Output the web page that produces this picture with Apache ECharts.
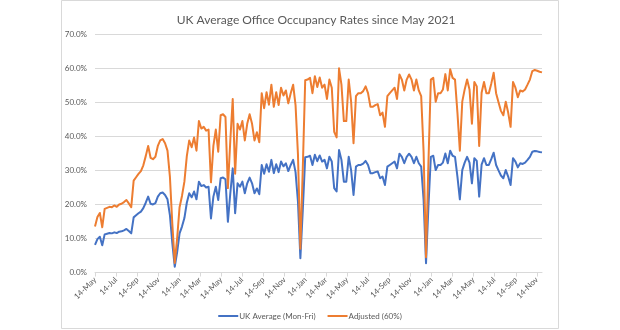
<!DOCTYPE html>
<html><head><meta charset="utf-8">
<script src="https://cdn.jsdelivr.net/npm/echarts@6/dist/echarts.min.js"></script>
<style>html,body{margin:0;padding:0;background:#fff}#c{width:620px;height:330px}</style>
</head><body><div id="c"></div>
<script>
// Weekly observations, first week ending Friday 14-May-2021
const firstWeek = [2021, 5, 14];
const weekCount = 186;

const ukAverage = [
  8.1, 9.8, 10.5, 8.0, 11.2, 11.4, 11.6, 11.5, 11.8, 11.6,
  12.0, 12.1, 12.4, 12.8, 12.2, 11.5, 16.2, 16.8, 17.4, 17.9,
  18.9, 20.5, 22.3, 20.2, 20.0, 20.4, 22.3, 23.3, 23.5, 22.8,
  21.5, 16.9, 8.6, 1.7, 6.0, 11.5, 13.5, 16.0, 20.5, 23.3,
  22.1, 23.8, 21.5, 26.7, 25.4, 25.7, 25.0, 25.2, 15.9, 22.3,
  25.2, 21.3, 27.7, 27.9, 27.4, 14.9, 23.3, 30.6, 17.4, 26.2,
  25.2, 26.7, 23.3, 26.2, 27.9, 26.2, 23.3, 24.7, 23.0, 31.6,
  29.0, 31.8, 29.6, 33.1, 29.2, 31.8, 29.5, 32.6, 31.2, 32.1,
  29.8, 31.6, 33.1, 29.5, 20.8, 4.2, 18.4, 33.9, 34.0, 34.3,
  31.6, 34.6, 32.7, 34.4, 32.6, 33.1, 30.6, 34.0, 32.6, 24.8,
  23.8, 36.0, 33.1, 26.7, 26.7, 34.0, 30.1, 22.8, 31.1, 31.6,
  31.6, 32.0, 32.8, 31.6, 29.2, 29.2, 29.5, 29.7, 27.7, 28.2,
  25.7, 31.1, 31.6, 32.1, 32.6, 30.6, 34.9, 34.0, 32.1, 34.0,
  34.9, 34.0, 32.1, 34.0, 32.1, 31.1, 21.3, 2.7, 19.4, 34.0,
  34.3, 30.1, 31.6, 31.6, 32.3, 35.0, 32.1, 35.8, 34.3, 34.0,
  28.2, 21.5, 30.1, 32.3, 34.0, 32.3, 26.2, 33.6, 32.8, 22.3,
  31.7, 33.6, 31.6, 31.6, 33.3, 35.2, 31.6, 30.0, 28.5, 27.7,
  30.1, 28.2, 25.7, 33.6, 32.6, 30.9, 32.1, 31.9, 32.3, 33.1,
  34.0, 35.5, 35.7, 35.6, 35.4, 35.3
];

const adjusted60 = [
  13.5, 16.3, 17.5, 13.3, 18.7, 19.0, 19.3, 19.2, 19.7, 19.3,
  20.0, 20.2, 20.7, 21.3, 20.3, 19.2, 27.0, 28.0, 29.0, 29.8,
  31.5, 34.2, 37.2, 33.7, 33.3, 34.0, 37.2, 38.8, 39.2, 38.0,
  35.8, 28.2, 14.3, 2.8, 10.0, 19.2, 22.5, 26.7, 34.2, 38.8,
  36.8, 39.7, 35.8, 44.5, 42.3, 42.8, 41.7, 42.0, 26.5, 37.2,
  42.0, 35.5, 46.2, 46.5, 45.7, 24.8, 38.8, 51.0, 29.0, 43.7,
  42.0, 44.5, 38.8, 43.7, 46.5, 43.7, 38.8, 41.2, 38.3, 52.7,
  48.3, 53.0, 49.3, 55.2, 48.7, 53.0, 49.2, 54.3, 52.0, 53.5,
  49.7, 52.7, 55.2, 49.2, 34.7, 7.0, 30.7, 56.5, 56.7, 57.2,
  52.7, 57.7, 54.5, 57.3, 54.3, 55.2, 51.0, 56.7, 54.3, 41.3,
  39.7, 60.0, 55.2, 44.5, 44.5, 56.7, 50.2, 38.0, 51.8, 52.7,
  52.7, 53.3, 54.7, 52.7, 48.7, 48.7, 49.2, 49.5, 46.2, 47.0,
  42.8, 51.8, 52.7, 53.5, 54.3, 51.0, 58.2, 56.7, 53.5, 56.7,
  58.2, 56.7, 53.5, 56.7, 53.5, 51.8, 35.5, 4.5, 32.3, 56.7,
  57.2, 50.2, 52.7, 52.7, 53.8, 58.3, 53.5, 59.7, 57.2, 56.7,
  47.0, 35.8, 50.2, 53.8, 56.7, 53.8, 43.7, 56.0, 54.7, 37.2,
  52.8, 56.0, 52.7, 52.7, 55.5, 58.7, 52.7, 50.0, 47.5, 46.2,
  50.2, 47.0, 42.8, 56.0, 54.3, 51.5, 53.5, 53.2, 53.8, 55.2,
  56.7, 59.2, 59.5, 59.3, 59.0, 58.8
];

const tickDates = [
  '2021-05-14','2021-07-14','2021-09-14','2021-11-14',
  '2022-01-14','2022-03-14','2022-05-14','2022-07-14','2022-09-14','2022-11-14',
  '2023-01-14','2023-03-14','2023-05-14','2023-07-14','2023-09-14','2023-11-14',
  '2024-01-14','2024-03-14','2024-05-14','2024-07-14','2024-09-14','2024-11-14'
];
const monthNames = ['Jan','Feb','Mar','Apr','May','Jun','Jul','Aug','Sep','Oct','Nov','Dec'];
const yTicks = [0, 10, 20, 30, 40, 50, 60, 70];

function toTs(s) { const p = s.split('-').map(Number); return new Date(p[0], p[1] - 1, p[2]).getTime(); }
const weekDates = [];
for (let i = 0; i < weekCount; i++) {
  weekDates.push(new Date(firstWeek[0], firstWeek[1] - 1, firstWeek[2] + 7 * i).getTime());
}
const tickTs = tickDates.map(toTs);
const seriesUK = weekDates.map((d, i) => [d, ukAverage[i]]);
const seriesAdj = weekDates.map((d, i) => [d, adjusted60[i]]);

const FONT = "Lato, 'Liberation Sans', sans-serif";
const GREY = '#595959';

const chart = echarts.init(document.getElementById('c'), null, { renderer: 'canvas' });
chart.setOption({
  animation: false,
  backgroundColor: '#fff',
  textStyle: { fontFamily: FONT },
  title: {
    text: 'UK Average Office Occupancy Rates since May 2021',
    left: 311, top: 9, textAlign: 'center',
    textStyle: { fontSize: 12, fontWeight: 'normal', color: GREY, fontFamily: FONT }
  },
  graphic: [{
    type: 'rect', shape: { x: 61.5, y: 0.5, width: 497, height: 328 },
    style: { fill: 'none', stroke: '#d9d9d9', lineWidth: 1 }, silent: true, z: -1
  }],
  legend: {
    bottom: 5, left: 'center',
    icon: 'rect', itemWidth: 20, itemHeight: 2, itemGap: 12,
    textStyle: { fontSize: 8, color: GREY, fontFamily: FONT, padding: [0, 0, 0, -4] },
    data: ['UK Average (Mon-Fri)', 'Adjusted (60%)']
  },
  grid: { left: 95, right: 78, top: 34.3, bottom: 57.5, containLabel: false },
  xAxis: {
    type: 'value',
    min: weekDates[0], max: weekDates[weekDates.length - 1],
    axisLine: { show: true, lineStyle: { color: '#d9d9d9', width: 1 } },
    axisTick: { show: true, length: 4, lineStyle: { color: '#d9d9d9' }, customValues: tickTs },
    axisLabel: {
      customValues: tickTs, rotate: 45, fontSize: 8, color: GREY, margin: 6,
      formatter: function (v) { const d = new Date(v); return d.getDate() + '-' + monthNames[d.getMonth()]; },
      hideOverlap: false
    },
    splitLine: { show: false }
  },
  yAxis: {
    type: 'value', min: yTicks[0], max: yTicks[yTicks.length - 1], interval: 10,
    axisLine: { show: false }, axisTick: { show: false },
    axisLabel: { fontSize: 8, color: GREY, margin: 8, formatter: v => v.toFixed(1) + '%' },
    splitLine: { lineStyle: { color: '#d9d9d9', width: 1 } }
  },
  series: [
    { name: 'UK Average (Mon-Fri)', type: 'line', data: seriesUK, symbol: 'none', smooth: false,
      lineStyle: { color: '#4472C4', width: 2, join: 'round' }, itemStyle: { color: '#4472C4' } },
    { name: 'Adjusted (60%)', type: 'line', data: seriesAdj, symbol: 'none', smooth: false,
      lineStyle: { color: '#ED7D31', width: 2, join: 'round' }, itemStyle: { color: '#ED7D31' } }
  ]
});
</script>
</body></html>
